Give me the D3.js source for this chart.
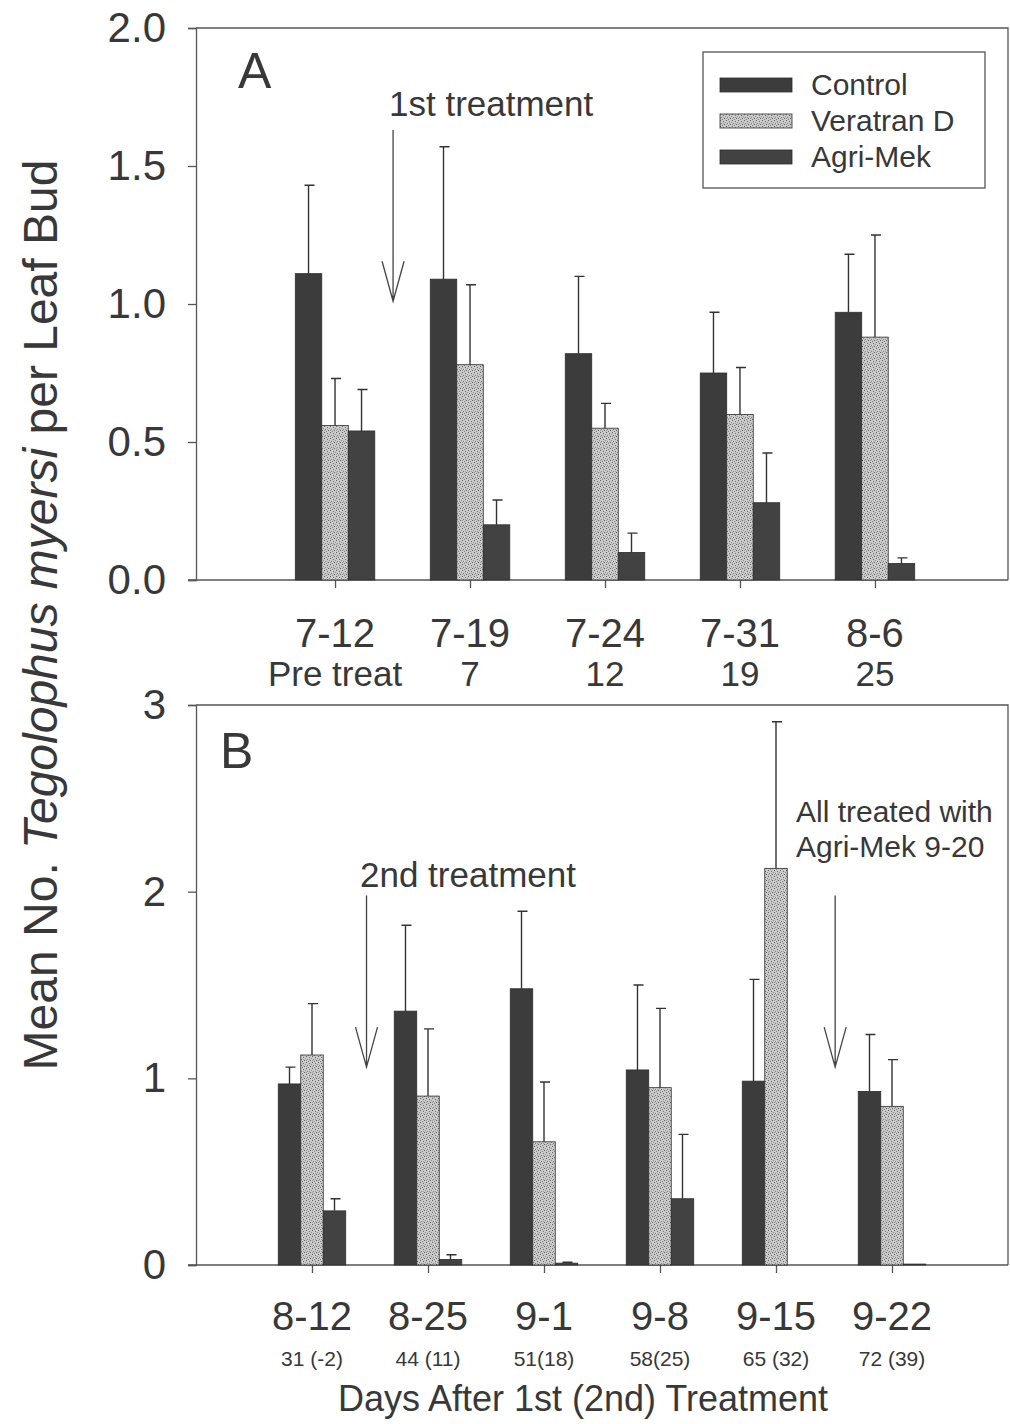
<!DOCTYPE html>
<html>
<head>
<meta charset="utf-8">
<script src="https://cdn.jsdelivr.net/npm/d3@7"></script>
<style>
  body { margin: 0; background: #fff; }
  text { font-family: Arial, "Liberation Sans", sans-serif; fill: #383838; }
</style>
</head>
<body>
<svg id="chart" width="1010" height="1424"></svg>
<script>
// series
const seriesNames = ['Control', 'Veratran D', 'Agri-Mek'];

// panel A
const datesA = ['7-12', '7-19', '7-24', '7-31', '8-6'];
const daysA = ['Pre treat', '7', '12', '19', '25'];
const controlA = [1.11, 1.09, 0.82, 0.75, 0.97];
const controlSeA = [0.32, 0.48, 0.28, 0.22, 0.21];
const veratranA = [0.56, 0.78, 0.55, 0.60, 0.88];
const veratranSeA = [0.17, 0.29, 0.09, 0.17, 0.37];
const agriA = [0.54, 0.20, 0.10, 0.28, 0.06];
const agriSeA = [0.15, 0.09, 0.07, 0.18, 0.02];
const ticksA = [0, 0.5, 1.0, 1.5, 2.0];

// panel B
const datesB = ['8-12', '8-25', '9-1', '9-8', '9-15', '9-22'];
const daysB = ['31 (-2)', '44 (11)', '51(18)', '58(25)', '65 (32)', '72 (39)'];
const controlB = [0.97, 1.36, 1.48, 1.045, 0.985, 0.93];
const controlSeB = [0.09, 0.46, 0.415, 0.455, 0.545, 0.305];
const veratranB = [1.125, 0.905, 0.66, 0.95, 2.125, 0.85];
const veratranSeB = [0.275, 0.36, 0.32, 0.425, 0.785, 0.25];
const agriB = [0.29, 0.03, 0.01, 0.355, 0, 0.005];
const agriSeB = [0.065, 0.025, 0.005, 0.345, 0, 0];
const ticksB = [0, 1, 2, 3];

const svg = d3.select('#chart');
svg.append('rect').attr('width', 1010).attr('height', 1424).attr('fill', '#fff');

// stipple pattern for Veratran D
let defs = svg.append('defs');
let pat = defs.append('pattern')
    .attr('id', 'stipple')
    .attr('width', 6).attr('height', 6)
    .attr('patternUnits', 'userSpaceOnUse');
pat.append('rect').attr('width', 6).attr('height', 6).attr('fill', '#cbcbcb');
// scattered dark specks so it reads as stipple, not hatch
[[0, 0, '#5e5e5e'], [3, 1, '#6a6a6a'], [1, 3, '#7a7a7a'], [4, 4, '#5e5e5e'], [5, 2, '#8c8c8c'], [2, 5, '#7a7a7a'], [0, 4, '#989898'], [3, 3, '#a0a0a0']]
    .forEach((p) => {
        pat.append('rect').attr('x', p[0]).attr('y', p[1]).attr('width', 1).attr('height', 1).attr('fill', p[2]);
    });

const fills = ['#3c3c3c', 'url(#stipple)', '#424242'];
const axisColor = '#555';

function drawPanel(cfg) {
    let g = svg.append('g');
    let x = d3.scalePoint().domain(cfg.dates).range(cfg.xRange).padding(cfg.pad);
    let y = d3.scaleLinear().domain(cfg.yDomain).range([cfg.bottom, cfg.top]);
    let step = x.step();
    let bw = cfg.barWidth;

    // frame
    g.append('path')
        .attr('d', 'M' + cfg.left + ',' + cfg.top + 'H' + cfg.right + 'V' + cfg.bottom)
        .attr('fill', 'none').attr('stroke', axisColor).attr('stroke-width', 1.3);

    // y axis
    let yAxis = g.append('g')
        .attr('transform', 'translate(' + cfg.left + ',0)')
        .call(d3.axisLeft(y).tickValues(cfg.ticks).tickFormat(cfg.fmt).tickSize(8).tickPadding(22));
    yAxis.select('.domain').attr('stroke', axisColor).attr('stroke-width', 1.3);
    yAxis.selectAll('.tick line').attr('stroke', axisColor).attr('stroke-width', 1.3);
    yAxis.selectAll('.tick text').attr('font-size', 42).attr('fill', '#444');

    // x axis
    let xAxis = g.append('g')
        .attr('transform', 'translate(0,' + cfg.bottom + ')')
        .call(d3.axisBottom(x).tickSize(8).tickFormat(''));
    xAxis.select('.domain').attr('d', 'M' + (cfg.left - 8) + ',0H' + cfg.right)
        .attr('stroke', axisColor).attr('stroke-width', 1.3);
    xAxis.selectAll('.tick line').attr('stroke', axisColor).attr('stroke-width', 1.3);

    g.selectAll('.date').data(cfg.dates).enter().append('text')
        .attr('x', (d) => x(d))
        .attr('y', cfg.dateY)
        .attr('text-anchor', 'middle')
        .attr('font-size', 40)
        .text((d) => d);
    g.selectAll('.days').data(cfg.days).enter().append('text')
        .attr('x', (d, i) => x(cfg.dates[i]))
        .attr('y', cfg.dayY)
        .attr('text-anchor', 'middle')
        .attr('font-size', cfg.dayFont)
        .text((d) => d);

    // bars
    cfg.series.forEach((s, k) => {
        let rows = cfg.dates.map((d, i) => ({ date: d, v: s.values[i], se: s.se[i] }));
        let off = (k - 1.5) * bw;
        g.selectAll('.bar' + k).data(rows).enter().append('rect')
            .attr('x', (d) => x(d.date) + off)
            .attr('y', (d) => y(d.v))
            .attr('width', bw)
            .attr('height', (d) => y(0) - y(d.v))
            .attr('fill', fills[k])
            .attr('stroke', '#2e2e2e')
            .attr('stroke-width', 0.8);
        let eb = rows.filter((d) => d.se > 0.004);
        g.selectAll('.err' + k).data(eb).enter().append('path')
            .attr('d', (d) => {
                let cx = x(d.date) + off + bw / 2;
                return 'M' + cx + ',' + y(d.v) + 'V' + y(d.v + d.se) + 'M' + (cx - 4) + ',' + y(d.v + d.se) + 'H' + (cx + 6);
            })
            .attr('fill', 'none').attr('stroke', '#333').attr('stroke-width', 1.4);
    });

    // panel letter
    g.append('text').attr('x', cfg.letterX).attr('y', cfg.letterY)
        .attr('font-size', 50).text(cfg.letter);

    // annotations
    cfg.notes.forEach((n) => {
        let ax = x(cfg.dates[n.after]) + n.frac * step;
        let y1 = y(n.from), y2 = y(n.to);
        g.append('path')
            .attr('d', 'M' + ax + ',' + y1 + 'V' + y2 + 'M' + (ax - 11) + ',' + (y2 - 40) + 'L' + ax + ',' + y2 + 'L' + (ax + 11) + ',' + (y2 - 40))
            .attr('fill', 'none').attr('stroke', '#444').attr('stroke-width', 1.3);
        let t = g.append('text').attr('font-size', n.size);
        n.lines.forEach((line, j) => {
            t.append('tspan').attr('x', n.tx).attr('y', n.ty + j * 35).text(line);
        });
    });
    return { x: x, y: y };
}

drawPanel({
    dates: datesA, days: daysA,
    xRange: [196, 1014], pad: 1.03,
    yDomain: [0, 2], ticks: ticksA, fmt: d3.format('.1f'),
    left: 196, right: 1008, top: 28, bottom: 580,
    barWidth: 26.5,
    dateY: 647, dayY: 686, dayFont: 35,
    series: [
        { values: controlA, se: controlSeA },
        { values: veratranA, se: veratranSeA },
        { values: agriA, se: agriSeA }
    ],
    letter: 'A', letterX: 238, letterY: 88,
    notes: [
        { after: 0, frac: 0.43, from: 1.63, to: 1.01, lines: ['1st treatment'], tx: 389, ty: 116, size: 35 }
    ]
});

drawPanel({
    dates: datesB, days: daysB,
    xRange: [196, 1008], pad: 1.0,
    yDomain: [0, 3], ticks: ticksB, fmt: d3.format('d'),
    left: 196, right: 1008, top: 705, bottom: 1265,
    barWidth: 22.5,
    dateY: 1330, dayY: 1366, dayFont: 21,
    series: [
        { values: controlB, se: controlSeB },
        { values: veratranB, se: veratranSeB },
        { values: agriB, se: agriSeB }
    ],
    letter: 'B', letterX: 220, letterY: 768,
    notes: [
        { after: 0, frac: 0.47, from: 1.98, to: 1.06, lines: ['2nd treatment'], tx: 360, ty: 887, size: 35 },
        { after: 4, frac: 0.51, from: 1.98, to: 1.06, lines: ['All treated with', 'Agri-Mek 9-20'], tx: 796, ty: 822, size: 30 }
    ]
});

// legend
let legend = svg.append('g');
legend.append('rect').attr('x', 703).attr('y', 52).attr('width', 282).attr('height', 136)
    .attr('fill', '#fff').attr('stroke', '#555').attr('stroke-width', 1.3);
seriesNames.forEach((name, i) => {
    let ly = 85 + i * 36;
    legend.append('rect').attr('x', 720).attr('y', ly - 7).attr('width', 72).attr('height', 14)
        .attr('fill', fills[i]).attr('stroke', '#2e2e2e').attr('stroke-width', 0.8);
    legend.append('text').attr('x', 811).attr('y', ly + 10).attr('font-size', 30).text(name);
});

// shared titles
svg.append('text')
    .attr('transform', 'translate(57,615) rotate(-90)')
    .attr('text-anchor', 'middle')
    .attr('font-size', 48)
    .call((t) => {
        t.append('tspan').text('Mean No. ');
        t.append('tspan').attr('font-style', 'italic').text('Tegolophus myersi');
        t.append('tspan').text(' per Leaf Bud');
    });

svg.append('text')
    .attr('x', 583).attr('y', 1411)
    .attr('text-anchor', 'middle')
    .attr('font-size', 36)
    .text('Days After 1st (2nd) Treatment');
</script>
</body>
</html>
